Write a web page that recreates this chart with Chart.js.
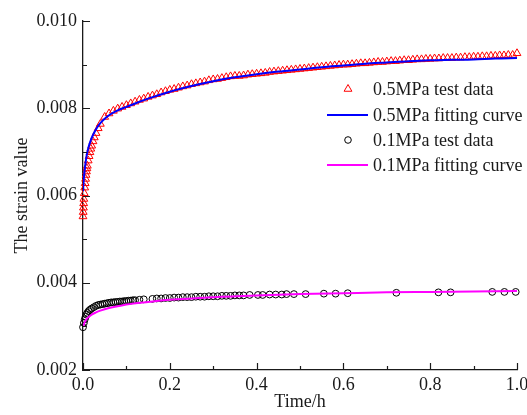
<!DOCTYPE html>
<html>
<head>
<meta charset="utf-8">
<script src="https://cdn.jsdelivr.net/npm/chart.js@4"></script>
<style>
  html, body { margin: 0; padding: 0; background: #fff; }
  #wrap { width: 527px; height: 415px; }
</style>
</head>
<body>
<div id="wrap"><canvas id="strainChart" width="527" height="415"></canvas></div>
<script>
// 0.5MPa test data (time in h, strain)
const time05 = [
  0, 0.0005, 0.001, 0.0015, 0.002, 0.003, 0.004, 0.005, 0.006, 0.007, 0.008, 0.009,
  0.010, 0.012, 0.014, 0.016, 0.018, 0.020, 0.023, 0.026, 0.030, 0.035, 0.040,
  0.05, 0.06, 0.07, 0.08, 0.09, 0.10, 0.11, 0.12, 0.13, 0.14, 0.15, 0.16, 0.17, 0.18, 0.19,
  0.20, 0.21, 0.22, 0.23, 0.24, 0.25, 0.26, 0.27, 0.28, 0.29, 0.30, 0.31, 0.32, 0.33, 0.34,
  0.35, 0.36, 0.37, 0.38, 0.39, 0.40, 0.41, 0.42, 0.43, 0.44, 0.45, 0.46, 0.47, 0.48, 0.49,
  0.50, 0.51, 0.52, 0.53, 0.54, 0.55, 0.56, 0.57, 0.58, 0.59, 0.60, 0.61, 0.62, 0.63, 0.64,
  0.65, 0.66, 0.67, 0.68, 0.69, 0.70, 0.71, 0.72, 0.73, 0.74, 0.75, 0.76, 0.77, 0.78, 0.79,
  0.80, 0.81, 0.82, 0.83, 0.84, 0.85, 0.86, 0.87, 0.88, 0.89, 0.90, 0.91, 0.92, 0.93, 0.94,
  0.95, 0.96, 0.97, 0.98, 0.99, 1.00
];
const strain05 = [
  0.00552, 0.00562, 0.00572, 0.00582, 0.00592, 0.00605, 0.00618, 0.00628, 0.00638, 0.00647, 0.00655, 0.00662,
  0.00668, 0.00680, 0.00690, 0.00699, 0.00707, 0.00714, 0.00724, 0.00733, 0.00743, 0.00754, 0.00764,
  0.00780, 0.00788, 0.00794, 0.00799, 0.00803, 0.00807, 0.00811, 0.00815, 0.00819, 0.00822, 0.00826, 0.00829, 0.00832, 0.00836, 0.00839,
  0.00842, 0.00844, 0.00847, 0.00850, 0.00852, 0.00855, 0.00857, 0.00859, 0.00861, 0.00864, 0.00866, 0.00867, 0.00869, 0.00871, 0.00873,
  0.00874, 0.00874, 0.00875, 0.00877, 0.00878, 0.00879, 0.00880, 0.00881, 0.00883, 0.00884, 0.00885, 0.00886, 0.00887, 0.00888, 0.00889,
  0.00890, 0.00891, 0.00892, 0.00893, 0.00894, 0.00895, 0.00896, 0.00897, 0.00898, 0.00899, 0.00900, 0.00900, 0.00901, 0.00902, 0.00903,
  0.00903, 0.00904, 0.00905, 0.00906, 0.00906, 0.00907, 0.00908, 0.00908, 0.00909, 0.00910, 0.00910, 0.00911, 0.00912, 0.00912, 0.00913,
  0.00913, 0.00914, 0.00914, 0.00915, 0.00915, 0.00915, 0.00916, 0.00916, 0.00917, 0.00917, 0.00918, 0.00918, 0.00919, 0.00919, 0.00920,
  0.00920, 0.00921, 0.00921, 0.00922, 0.00922, 0.00926
];

// 0.5MPa fitting curve
const fitTime05 = [
  0, 0.002, 0.005, 0.01, 0.02, 0.03, 0.04, 0.05, 0.06, 0.08, 0.10, 0.12, 0.15, 0.20, 0.25,
  0.30, 0.35, 0.40, 0.45, 0.50, 0.55, 0.60, 0.65, 0.70, 0.75, 0.80, 0.85, 0.90, 0.95, 1.00
];
const fitStrain05 = [
  0.00610, 0.00640, 0.00668, 0.00700, 0.00732, 0.00752, 0.00766, 0.00776, 0.00784, 0.00795, 0.00803, 0.00811, 0.00822, 0.00838, 0.00851,
  0.00862, 0.00871, 0.00878, 0.00884, 0.00889, 0.00894, 0.00898, 0.00902, 0.00905, 0.00908, 0.00910, 0.00911, 0.00912, 0.00914, 0.00915
];

// 0.1MPa test data
const time01 = [
  0, 0.002, 0.004, 0.006, 0.008, 0.010, 0.013, 0.016, 0.020, 0.025, 0.030, 0.035, 0.040, 0.045,
  0.050, 0.055, 0.060, 0.065, 0.070, 0.075, 0.080, 0.085, 0.090, 0.095, 0.100, 0.105, 0.110, 0.115,
  0.120, 0.130, 0.140, 0.160, 0.170, 0.180, 0.190, 0.200, 0.210, 0.220, 0.230, 0.240, 0.250, 0.260,
  0.270, 0.280, 0.290, 0.300, 0.310, 0.320, 0.330, 0.340, 0.350, 0.360, 0.370, 0.384, 0.403, 0.414,
  0.430, 0.444, 0.458, 0.469, 0.486, 0.513, 0.555, 0.582, 0.610, 0.722, 0.819, 0.847, 0.943, 0.971, 0.997
];
const strain01 = [
  0.00298, 0.00308, 0.00316, 0.00322, 0.00327, 0.00331, 0.00335, 0.00338, 0.00341, 0.00344, 0.00347, 0.00349, 0.00350, 0.00351,
  0.00352, 0.00353, 0.00354, 0.00355, 0.00355, 0.00356, 0.00356, 0.00357, 0.00357, 0.00358, 0.00358, 0.00359, 0.00359, 0.00360,
  0.00360, 0.00361, 0.00362, 0.00363, 0.00364, 0.00364, 0.00365, 0.00365, 0.00366, 0.00366, 0.00367, 0.00367, 0.00367, 0.00368,
  0.00368, 0.00368, 0.00369, 0.00369, 0.00369, 0.00370, 0.00370, 0.00370, 0.00371, 0.00371, 0.00371, 0.00372, 0.00372, 0.00372,
  0.00373, 0.00373, 0.00373, 0.00374, 0.00374, 0.00374, 0.00375, 0.00375, 0.00376, 0.00377, 0.00378, 0.00378, 0.00379, 0.00379, 0.00379
];

// 0.1MPa fitting curve
const fitTime01 = [0, 0.005, 0.01, 0.02, 0.03, 0.04, 0.06, 0.08, 0.10, 0.15, 0.20, 0.30, 0.40, 0.50, 0.60, 0.70, 0.80, 0.90, 1.00];
const fitStrain01 = [
  0.00300, 0.00312, 0.00319, 0.00327, 0.00332, 0.00336, 0.00342, 0.00346, 0.00350, 0.00356,
  0.00361, 0.00367, 0.00371, 0.00374, 0.00376, 0.00378, 0.00379, 0.00380, 0.00381
];

const seriesLabels = ['0.5MPa test data', '0.5MPa fitting curve', '0.1MPa test data', '0.1MPa fitting curve'];
const xTicks = [0, 0.2, 0.4, 0.6, 0.8, 1.0];
const yTicks = [0.002, 0.004, 0.006, 0.008, 0.010];

function pairs(xs, ys) {
  return xs.map((x, i) => ({ x: x, y: ys[i] }));
}

const FONT = "'Liberation Serif', 'Times New Roman', serif";
const INK = '#1a1a1a';

// inward major + minor ticks, drawn from the scales
const tickPlugin = {
  id: 'tickPlugin',
  afterDraw(chart) {
    const { ctx, chartArea: a, scales: { x, y } } = chart;
    ctx.save();
    ctx.strokeStyle = INK;
    ctx.lineWidth = 1.2;
    ctx.beginPath();
    for (let i = 0; i < xTicks.length; i++) {
      const px = Math.round(x.getPixelForValue(xTicks[i])) + 0.5;
      ctx.moveTo(px, a.bottom); ctx.lineTo(px, a.bottom - 7);
      if (i < xTicks.length - 1) {
        const mx = Math.round(x.getPixelForValue((xTicks[i] + xTicks[i + 1]) / 2)) + 0.5;
        ctx.moveTo(mx, a.bottom); ctx.lineTo(mx, a.bottom - 4);
      }
    }
    for (let i = 0; i < yTicks.length; i++) {
      const py = Math.round(y.getPixelForValue(yTicks[i])) + 0.5;
      ctx.moveTo(a.left, py); ctx.lineTo(a.left + 7, py);
      if (i < yTicks.length - 1) {
        const my = Math.round(y.getPixelForValue((yTicks[i] + yTicks[i + 1]) / 2)) + 0.5;
        ctx.moveTo(a.left, my); ctx.lineTo(a.left + 4, my);
      }
    }
    ctx.stroke();
    ctx.restore();
  }
};

// legend inside the plot, right side
const legendPlugin = {
  id: 'legendPlugin',
  afterDraw(chart) {
    const { ctx } = chart;
    const sets = chart.data.datasets;
    const markX = 348, lineX0 = 327, lineX1 = 368, textX = 373;
    const rows = [89, 115, 140, 165];
    ctx.save();
    ctx.font = '18px ' + FONT;
    ctx.fillStyle = INK;
    ctx.textBaseline = 'middle';
    sets.forEach((ds, i) => {
      const yy = rows[i];
      ctx.strokeStyle = ds.borderColor;
      if (ds.showLine) {
        ctx.lineWidth = 2;
        ctx.beginPath(); ctx.moveTo(lineX0, yy); ctx.lineTo(lineX1, yy); ctx.stroke();
      } else if (ds.pointStyle === 'triangle') {
        const r = 4.5;
        ctx.lineWidth = 1;
        ctx.beginPath();
        ctx.moveTo(markX, yy - r);
        ctx.lineTo(markX + r * 0.866, yy + r / 2);
        ctx.lineTo(markX - r * 0.866, yy + r / 2);
        ctx.closePath(); ctx.stroke();
      } else {
        ctx.lineWidth = 1;
        ctx.beginPath(); ctx.arc(markX, yy, 3.3, 0, Math.PI * 2); ctx.stroke();
      }
      ctx.fillText(ds.label, textX, yy + 1);
    });
    ctx.restore();
  }
};

const whiteBg = {
  id: 'whiteBg',
  beforeDraw(chart) {
    const { ctx } = chart;
    ctx.save();
    ctx.fillStyle = '#fff';
    ctx.fillRect(0, 0, chart.width, chart.height);
    ctx.restore();
  }
};

Chart.defaults.font.family = FONT;
Chart.defaults.font.size = 18;
Chart.defaults.color = INK;

const ctx = document.getElementById('strainChart').getContext('2d');
new Chart(ctx, {
  type: 'scatter',
  data: {
    datasets: [
      {
        label: seriesLabels[0],
        data: pairs(time05, strain05),
        pointStyle: 'triangle',
        pointRadius: 4.5,
        borderColor: '#ff0000',
        backgroundColor: 'rgba(0,0,0,0)',
        borderWidth: 1,
        clip: false,
        order: 3
      },
      {
        label: seriesLabels[1],
        data: pairs(fitTime05, fitStrain05),
        showLine: true,
        pointRadius: 0,
        borderColor: '#0000ff',
        borderWidth: 2,
        cubicInterpolationMode: 'monotone',
        order: 1
      },
      {
        label: seriesLabels[2],
        data: pairs(time01, strain01),
        pointStyle: 'circle',
        pointRadius: 3.4,
        borderColor: '#000000',
        backgroundColor: 'rgba(0,0,0,0)',
        borderWidth: 1,
        clip: false,
        order: 4
      },
      {
        label: seriesLabels[3],
        data: pairs(fitTime01, fitStrain01),
        showLine: true,
        pointRadius: 0,
        borderColor: '#ff00ff',
        borderWidth: 2,
        cubicInterpolationMode: 'monotone',
        order: 2
      }
    ]
  },
  options: {
    responsive: false,
    animation: false,
    events: [],
    layout: { padding: { top: 21, right: 10, bottom: 0, left: 0 } },
    plugins: {
      legend: { display: false },
      tooltip: { enabled: false }
    },
    scales: {
      x: {
        type: 'linear',
        min: 0,
        max: 1,
        afterBuildTicks: function(scale) {
          scale.ticks = xTicks.map(v => ({ value: v }));
        },
        ticks: {
          padding: 4,
          maxRotation: 0,
          callback: function(value) { return value.toFixed(1); }
        },
        grid: { display: false, drawTicks: false },
        border: { display: true, color: INK, width: 1.3 },
        title: { display: true, text: 'Time/h', padding: { top: 0, bottom: 2 } },
        afterFit: function(scale) {
          scale.height = 45;
          scale.paddingLeft = 0;
          scale.paddingRight = 0;
        }
      },
      y: {
        type: 'linear',
        min: 0.002,
        max: 0.010,
        afterBuildTicks: function(scale) {
          scale.ticks = yTicks.map(v => ({ value: v }));
        },
        ticks: {
          padding: 6,
          callback: function(value) { return value.toFixed(3); }
        },
        grid: { display: false, drawTicks: false },
        border: { display: true, color: INK, width: 1.3 },
        title: { display: true, text: 'The strain value', padding: { top: 11, bottom: 0 } },
        afterFit: function(scale) {
          scale.width = 83;
          scale.paddingTop = 0;
          scale.paddingBottom = 0;
        }
      }
    }
  },
  plugins: [whiteBg, tickPlugin, legendPlugin]
});
</script>
</body>
</html>
